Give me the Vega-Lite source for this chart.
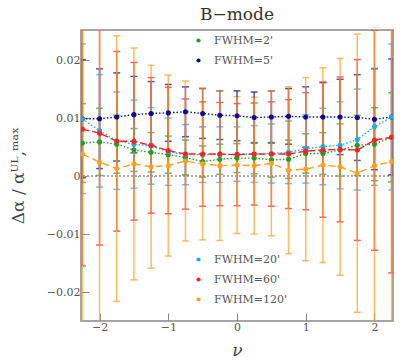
{
  "$schema": "https://vega.github.io/schema/vega-lite/v6.json",
  "autosize": {"type": "none"},
  "padding": {"left": 81, "top": 30, "right": 22, "bottom": 39},
  "width": 312,
  "height": 291,
  "title": {"text": "B−mode", "font": "DejaVu Serif", "fontSize": 17, "fontWeight": "normal", "color": "#333", "anchor": "middle", "offset": 6},
  "config": {
    "view": {"stroke": "#888", "strokeWidth": 1.5},
    "axis": {"labelFont": "DejaVu Serif", "labelFontSize": 11, "labelColor": "#555", "tickColor": "#888", "tickWidth": 1, "domain": false, "grid": false, "titleFont": "DejaVu Serif", "titleFontWeight": "normal", "titleColor": "#444", "labelOverlap": false}
  },
  "datasets": {
    "d": [
      {"s": "FWHM=2'", "nu": -2.25, "v": 0.0057, "e": 0.0068},
      {"s": "FWHM=2'", "nu": -2.0, "v": 0.0059, "e": 0.0058},
      {"s": "FWHM=2'", "nu": -1.75, "v": 0.0055, "e": 0.005},
      {"s": "FWHM=2'", "nu": -1.5, "v": 0.0045, "e": 0.0037},
      {"s": "FWHM=2'", "nu": -1.25, "v": 0.0041, "e": 0.0034},
      {"s": "FWHM=2'", "nu": -1.0, "v": 0.0037, "e": 0.0032},
      {"s": "FWHM=2'", "nu": -0.75, "v": 0.0032, "e": 0.003},
      {"s": "FWHM=2'", "nu": -0.5, "v": 0.0025, "e": 0.0027},
      {"s": "FWHM=2'", "nu": -0.25, "v": 0.0029, "e": 0.0026},
      {"s": "FWHM=2'", "nu": 0.0, "v": 0.0031, "e": 0.0025},
      {"s": "FWHM=2'", "nu": 0.25, "v": 0.0031, "e": 0.0027},
      {"s": "FWHM=2'", "nu": 0.5, "v": 0.0028, "e": 0.003},
      {"s": "FWHM=2'", "nu": 0.75, "v": 0.0029, "e": 0.0033},
      {"s": "FWHM=2'", "nu": 1.0, "v": 0.0039, "e": 0.0034},
      {"s": "FWHM=2'", "nu": 1.25, "v": 0.0039, "e": 0.0036},
      {"s": "FWHM=2'", "nu": 1.5, "v": 0.0045, "e": 0.0045},
      {"s": "FWHM=2'", "nu": 1.75, "v": 0.0053, "e": 0.0052},
      {"s": "FWHM=2'", "nu": 2.0, "v": 0.0055, "e": 0.0063},
      {"s": "FWHM=2'", "nu": 2.25, "v": 0.0067, "e": 0.0077},
      {"s": "FWHM=5'", "nu": -2.25, "v": 0.0099, "e": 0.0102},
      {"s": "FWHM=5'", "nu": -2.0, "v": 0.0099, "e": 0.0086},
      {"s": "FWHM=5'", "nu": -1.75, "v": 0.0102, "e": 0.0076},
      {"s": "FWHM=5'", "nu": -1.5, "v": 0.0106, "e": 0.0066},
      {"s": "FWHM=5'", "nu": -1.25, "v": 0.0108, "e": 0.0055},
      {"s": "FWHM=5'", "nu": -1.0, "v": 0.0109, "e": 0.0049},
      {"s": "FWHM=5'", "nu": -0.75, "v": 0.0111, "e": 0.0043},
      {"s": "FWHM=5'", "nu": -0.5, "v": 0.0108, "e": 0.0043},
      {"s": "FWHM=5'", "nu": -0.25, "v": 0.0105, "e": 0.0042},
      {"s": "FWHM=5'", "nu": 0.0, "v": 0.0104, "e": 0.0043},
      {"s": "FWHM=5'", "nu": 0.25, "v": 0.0101, "e": 0.0044},
      {"s": "FWHM=5'", "nu": 0.5, "v": 0.0102, "e": 0.0045},
      {"s": "FWHM=5'", "nu": 0.75, "v": 0.0103, "e": 0.0048},
      {"s": "FWHM=5'", "nu": 1.0, "v": 0.0102, "e": 0.0052},
      {"s": "FWHM=5'", "nu": 1.25, "v": 0.0102, "e": 0.006},
      {"s": "FWHM=5'", "nu": 1.5, "v": 0.0102, "e": 0.0065},
      {"s": "FWHM=5'", "nu": 1.75, "v": 0.0101, "e": 0.0074},
      {"s": "FWHM=5'", "nu": 2.0, "v": 0.0098, "e": 0.0087},
      {"s": "FWHM=5'", "nu": 2.25, "v": 0.0102, "e": 0.01},
      {"s": "FWHM=20'", "nu": -2.25, "v": 0.0099, "e": 0.0129},
      {"s": "FWHM=20'", "nu": -2.0, "v": 0.0078, "e": 0.0097},
      {"s": "FWHM=20'", "nu": -1.75, "v": 0.0061, "e": 0.0084},
      {"s": "FWHM=20'", "nu": -1.5, "v": 0.0055, "e": 0.0076},
      {"s": "FWHM=20'", "nu": -1.25, "v": 0.0052, "e": 0.0066},
      {"s": "FWHM=20'", "nu": -1.0, "v": 0.0042, "e": 0.0058},
      {"s": "FWHM=20'", "nu": -0.75, "v": 0.0037, "e": 0.0052},
      {"s": "FWHM=20'", "nu": -0.5, "v": 0.0037, "e": 0.0048},
      {"s": "FWHM=20'", "nu": -0.25, "v": 0.0037, "e": 0.0048},
      {"s": "FWHM=20'", "nu": 0.0, "v": 0.0038, "e": 0.0047},
      {"s": "FWHM=20'", "nu": 0.25, "v": 0.0038, "e": 0.0049},
      {"s": "FWHM=20'", "nu": 0.5, "v": 0.0039, "e": 0.0051},
      {"s": "FWHM=20'", "nu": 0.75, "v": 0.0041, "e": 0.0054},
      {"s": "FWHM=20'", "nu": 1.0, "v": 0.0047, "e": 0.0059},
      {"s": "FWHM=20'", "nu": 1.25, "v": 0.0051, "e": 0.0066},
      {"s": "FWHM=20'", "nu": 1.5, "v": 0.0053, "e": 0.0075},
      {"s": "FWHM=20'", "nu": 1.75, "v": 0.0063, "e": 0.0087},
      {"s": "FWHM=20'", "nu": 2.0, "v": 0.0085, "e": 0.0101},
      {"s": "FWHM=20'", "nu": 2.25, "v": 0.0102, "e": 0.0126},
      {"s": "FWHM=60'", "nu": -2.25, "v": 0.0081, "e": 0.0236},
      {"s": "FWHM=60'", "nu": -2.0, "v": 0.0074, "e": 0.0193},
      {"s": "FWHM=60'", "nu": -1.75, "v": 0.006, "e": 0.0155},
      {"s": "FWHM=60'", "nu": -1.5, "v": 0.006, "e": 0.0136},
      {"s": "FWHM=60'", "nu": -1.25, "v": 0.0053, "e": 0.0117},
      {"s": "FWHM=60'", "nu": -1.0, "v": 0.0044, "e": 0.0109},
      {"s": "FWHM=60'", "nu": -0.75, "v": 0.0038, "e": 0.0095},
      {"s": "FWHM=60'", "nu": -0.5, "v": 0.0038, "e": 0.009},
      {"s": "FWHM=60'", "nu": -0.25, "v": 0.0038, "e": 0.0089},
      {"s": "FWHM=60'", "nu": 0.0, "v": 0.0037, "e": 0.0088},
      {"s": "FWHM=60'", "nu": 0.25, "v": 0.0038, "e": 0.0088},
      {"s": "FWHM=60'", "nu": 0.5, "v": 0.0038, "e": 0.009},
      {"s": "FWHM=60'", "nu": 0.75, "v": 0.0038, "e": 0.0094},
      {"s": "FWHM=60'", "nu": 1.0, "v": 0.0043, "e": 0.0101},
      {"s": "FWHM=60'", "nu": 1.25, "v": 0.0045, "e": 0.0116},
      {"s": "FWHM=60'", "nu": 1.5, "v": 0.0046, "e": 0.0125},
      {"s": "FWHM=60'", "nu": 1.75, "v": 0.0045, "e": 0.0156},
      {"s": "FWHM=60'", "nu": 2.0, "v": 0.0062, "e": 0.019},
      {"s": "FWHM=60'", "nu": 2.25, "v": 0.0067, "e": 0.0234},
      {"s": "FWHM=120'", "nu": -2.25, "v": 0.0038, "e": 0.042},
      {"s": "FWHM=120'", "nu": -2.0, "v": 0.0024, "e": 0.032},
      {"s": "FWHM=120'", "nu": -1.75, "v": 0.0013, "e": 0.0229},
      {"s": "FWHM=120'", "nu": -1.5, "v": 0.0021, "e": 0.02},
      {"s": "FWHM=120'", "nu": -1.25, "v": 0.0016, "e": 0.0175},
      {"s": "FWHM=120'", "nu": -1.0, "v": 0.0018, "e": 0.0156},
      {"s": "FWHM=120'", "nu": -0.75, "v": 0.0026, "e": 0.0138},
      {"s": "FWHM=120'", "nu": -0.5, "v": 0.0021, "e": 0.0131},
      {"s": "FWHM=120'", "nu": -0.25, "v": 0.0018, "e": 0.0129},
      {"s": "FWHM=120'", "nu": 0.0, "v": 0.0019, "e": 0.0118},
      {"s": "FWHM=120'", "nu": 0.25, "v": 0.0018, "e": 0.0118},
      {"s": "FWHM=120'", "nu": 0.5, "v": 0.0022, "e": 0.0125},
      {"s": "FWHM=120'", "nu": 0.75, "v": 0.001, "e": 0.0144},
      {"s": "FWHM=120'", "nu": 1.0, "v": 0.0012, "e": 0.0158},
      {"s": "FWHM=120'", "nu": 1.25, "v": 0.0019, "e": 0.0168},
      {"s": "FWHM=120'", "nu": 1.5, "v": 0.0016, "e": 0.0187},
      {"s": "FWHM=120'", "nu": 1.75, "v": 0.0005, "e": 0.024},
      {"s": "FWHM=120'", "nu": 2.0, "v": 0.0018, "e": 0.033},
      {"s": "FWHM=120'", "nu": 2.25, "v": 0.0025, "e": 0.045}
    ]
  },
  "data": {"name": "d"},
  "resolve": {"scale": {"color": "independent", "strokeDash": "independent"}},
  "layer": [
    {
      "mark": {"type": "rule", "color": "#aaa", "strokeDash": [2, 2], "strokeWidth": 1},
      "encoding": {"y": {"datum": 0, "type": "quantitative", "title": "Δα / αᵁᴸ,ᵐᵃˣ", "scale": {"domain": [-0.025, 0.0252], "nice": false, "zero": false},
          "axis": {"title": "Δα / αᵁᴸ,ᵐᵃˣ", "titleFontSize": 17, "titleX": -63, "titleY": 145, "titleAlign": "center", "titleBaseline": "middle", "titleAngle": -90,
            "values": [-0.02, -0.01, 0, 0.01, 0.02], "format": ".2~f", "tickSize": -8, "labelPadding": 9}}}
    },
    {
      "mark": {"type": "errorbar", "clip": true, "opacity": 0.7, "thickness": 1.5, "ticks": {"size": 7, "thickness": 1.5}},
      "encoding": {
        "x": {"field": "nu", "type": "quantitative", "title": "ν", "scale": {"domain": [-2.27, 2.27], "nice": false, "zero": false},
          "axis": {"title": "ν", "titleFontSize": 17, "titleFontStyle": "italic", "titleY": 34, "titleBaseline": "alphabetic",
            "values": [-2, -1, 0, 1, 2], "format": "d", "tickSize": -8, "labelPadding": 8}},
        "y": {"field": "v", "type": "quantitative", "title": "Δα / αᵁᴸ,ᵐᵃˣ"},
        "yError": {"field": "e"},
        "color": {"field": "s", "type": "nominal", "legend": null,
          "scale": {"domain": ["FWHM=2'", "FWHM=5'", "FWHM=20'", "FWHM=60'", "FWHM=120'"], "range": ["#22a022", "#0c0c90", "#20a8f0", "#ff2020", "#ffa020"]}}
      }
    },
    {
      "mark": {"type": "line", "clip": true, "strokeWidth": 1.4},
      "encoding": {
        "x": {"field": "nu", "type": "quantitative", "title": "ν"},
        "y": {"field": "v", "type": "quantitative", "title": "Δα / αᵁᴸ,ᵐᵃˣ"},
        "color": {"field": "s", "type": "nominal", "legend": null,
          "scale": {"domain": ["FWHM=2'", "FWHM=5'", "FWHM=20'", "FWHM=60'", "FWHM=120'"], "range": ["#22a022", "#0c0c90", "#20a8f0", "#ff2020", "#ffa020"]}},
        "strokeDash": {"field": "s", "type": "nominal", "legend": null,
          "scale": {"domain": ["FWHM=2'", "FWHM=5'", "FWHM=20'", "FWHM=60'", "FWHM=120'"], "range": [[1.5, 2], [1.5, 2], [1.5, 2], [7, 3], [7, 4]]}}
      }
    },
    {
      "transform": [{"filter": {"field": "s", "oneOf": ["FWHM=2'", "FWHM=5'"]}}],
      "mark": {"type": "point", "filled": true, "opacity": 1, "size": 26, "clip": true},
      "encoding": {
        "x": {"field": "nu", "type": "quantitative", "title": "ν"},
        "y": {"field": "v", "type": "quantitative", "title": "Δα / αᵁᴸ,ᵐᵃˣ"},
        "color": {"field": "s", "type": "nominal",
          "scale": {"domain": ["FWHM=2'", "FWHM=5'"], "range": ["#22a022", "#0c0c90"]},
          "legend": {"orient": "none", "legendX": 112, "legendY": 5, "title": null, "symbolType": "circle", "symbolSize": 18, "labelFont": "DejaVu Serif", "labelFontSize": 11, "labelColor": "#555", "labelOffset": 10, "rowPadding": 8, "padding": 0}}
      }
    },
    {
      "transform": [{"filter": {"field": "s", "oneOf": ["FWHM=20'", "FWHM=60'", "FWHM=120'"]}}],
      "mark": {"type": "point", "filled": true, "opacity": 1, "size": 26, "clip": true},
      "encoding": {
        "x": {"field": "nu", "type": "quantitative", "title": "ν"},
        "y": {"field": "v", "type": "quantitative", "title": "Δα / αᵁᴸ,ᵐᵃˣ"},
        "color": {"field": "s", "type": "nominal",
          "scale": {"domain": ["FWHM=20'", "FWHM=60'", "FWHM=120'"], "range": ["#20a8f0", "#ff2020", "#ffa020"]},
          "legend": {"orient": "none", "legendX": 112, "legendY": 224, "title": null, "symbolType": "circle", "symbolSize": 18, "labelFont": "DejaVu Serif", "labelFontSize": 11, "labelColor": "#555", "labelOffset": 10, "rowPadding": 8, "padding": 0}}
      }
    }
  ]
}
